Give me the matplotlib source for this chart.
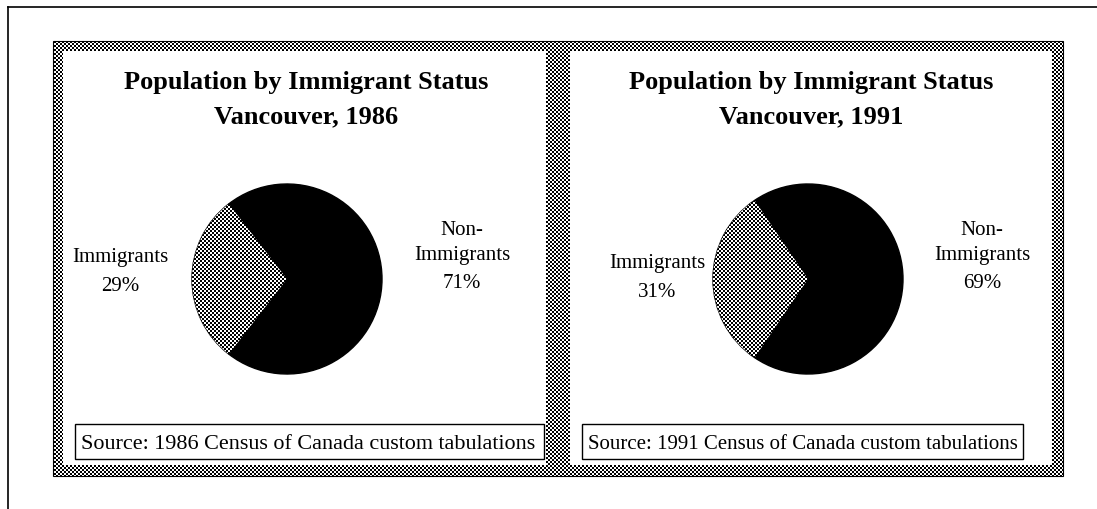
import numpy as np
import matplotlib.pyplot as plt
from matplotlib.patches import Rectangle

plt.rcParams['font.family'] = ['Liberation Serif', 'DejaVu Serif']

years = ['1986', '1991']
immigrants_pct = [29, 31]
non_immigrants_pct = [71, 69]
city = 'Vancouver'

W, H = 1097, 510


def checker(h, w, cell=2):
    yy, xx = np.mgrid[0:h, 0:w]
    return ((yy // cell + xx // cell) % 2).astype(float)


def lines(ax, x, baselines, texts, **kw):
    for y, t in zip(baselines, texts):
        ax.text(x, y, t, ha='center', va='baseline', **kw)


fig = plt.figure(figsize=(W / 100, H / 100), dpi=100)

# pixel-coordinate background layer: frame, dotted panel borders, text
bg = fig.add_axes([0, 0, 1, 1], zorder=0)
bg.set_xlim(0, W)
bg.set_ylim(H, 0)
bg.axis('off')

bg.plot([8, W], [8, 8], color='black', lw=1.2)
bg.plot([8, 8], [8, H], color='black', lw=1.2)

outer = Rectangle((53, 42), 1010, 435, transform=bg.transData)
pattern = bg.imshow(checker(H, W), cmap='gray', extent=(0, W, H, 0),
                    interpolation='nearest', aspect='auto', zorder=1)
pattern.set_clip_path(outer)
bg.add_patch(Rectangle((53, 42), 1010, 435, fill=False, ec='black', lw=0.8, zorder=2))

panels = [(63, 546), (570, 1052)]
for (x0, x1) in panels:
    bg.add_patch(Rectangle((x0, 52), x1 - x0, 414, fc='white', ec='none', zorder=2))

pie_centers = [(287, 280), (808, 280)]
r = 95
title_x = [306, 811]
imm_label = [(120, [262, 291]), (657, [268, 297])]
non_label = [(462, [235, 260, 288]), (982, [235, 260, 288])]
source_boxes = [(75, 469, 15.9), (582, 441, 15.0)]

for i, year in enumerate(years):
    lines(bg, title_x[i], [89, 123],
          ['Population by Immigrant Status', f'{city}, {year}'],
          fontsize=19, fontweight='bold', zorder=3)

    x, ys = imm_label[i]
    lines(bg, x, ys, ['Immigrants', f'{immigrants_pct[i]}%'], fontsize=15, zorder=3)
    x, ys = non_label[i]
    lines(bg, x, ys, ['Non-', 'Immigrants', f'{non_immigrants_pct[i]}%'],
          fontsize=15, zorder=3)

    bx, bw, fs = source_boxes[i]
    bg.add_patch(Rectangle((bx, 425), bw, 35, fc='white', ec='black', lw=1, zorder=3))
    bg.text(bx + 6, 449, f'Source: {year} Census of Canada custom tabulations',
            ha='left', va='baseline', fontsize=fs, zorder=4)

    # pie
    cx, cy = pie_centers[i]
    ax = fig.add_axes([(cx - r) / W, 1 - (cy + r) / H, 2 * r / W, 2 * r / H], zorder=1)
    share = immigrants_pct[i]
    wedges, _ = ax.pie([share, non_immigrants_pct[i]], colors=['white', 'black'],
                       startangle=180 - share * 1.8,
                       wedgeprops=dict(edgecolor='black', linewidth=1))
    dots = ax.imshow(checker(2 * r, 2 * r), cmap='gray', extent=(-1, 1, -1, 1),
                     interpolation='nearest', zorder=2)
    dots.set_clip_path(wedges[0])
    for w in wedges:
        w.set_clip_on(False)
    ax.set_xlim(-1, 1)
    ax.set_ylim(-1, 1)
    ax.set_aspect('equal')
    ax.axis('off')

fig.savefig('out.png', dpi=100)
